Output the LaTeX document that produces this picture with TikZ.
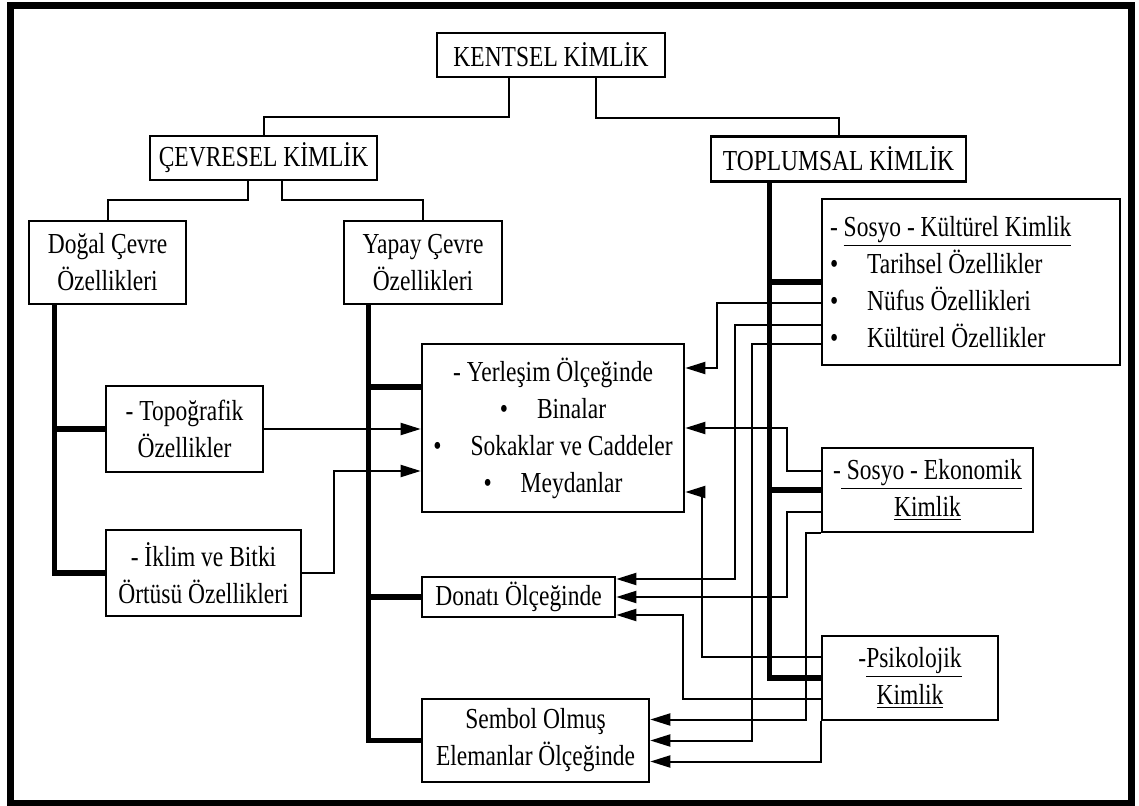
\documentclass[tikz,border=0pt]{standalone}
\usepackage{fontspec}
\setmainfont{Liberation Serif}[FakeStretch=0.81]
\usetikzlibrary{arrows.meta}

\begin{document}
\begin{tikzpicture}[
    x=0.5pt, y=-0.5pt,
    every node/.style={
        font=\fontsize{14.5pt}{18.5pt}\selectfont,
        align=center
    },
    box/.style={
        rectangle,
        draw=black,
        line width=1.3pt,
        inner sep=0pt
    },
    link/.style={line width=1pt},
    bus/.style={line width=2.7pt},
    arrow/.style={
        -{Triangle[length=10pt,width=6pt]},
        line width=1pt
    }
]
\useasboundingbox (0,0) rectangle (1139,806);
\draw[line width=3.5pt] (10.5,5.5) rectangle (1131,803);

\node[box, minimum width=114pt, minimum height=22pt] (kent) at (551,55) {KENTSEL KİMLİK};
\node[box, minimum width=113.5pt, minimum height=22pt] (cevre) at (263.5,158) {ÇEVRESEL KİMLİK};
\node[box, minimum width=127.5pt, minimum height=22.5pt] (toplum) at (838.5,159) {TOPLUMSAL KİMLİK};

\node[box, minimum width=78.5pt, minimum height=41.5pt] (dogal) at (107.5,262.5) {Doğal Çevre\\Özellikleri};
\node[box, minimum width=79pt, minimum height=41.5pt] (yapay) at (423,262.5) {Yapay Çevre\\Özellikleri};
\node[box, minimum width=78.5pt, minimum height=43pt] (topo) at (184.5,429) {- Topoğrafik\\Özellikler};
\node[box, minimum width=97.5pt, minimum height=43pt] (iklim) at (203.5,573) {- İklim ve Bitki\\Örtüsü Özellikleri};

\node[box, minimum width=131pt, minimum height=84pt] (yerlesim) at (553,428)
    {- Yerleşim Ölçeğinde\\\textbullet\quad Binalar\\\textbullet\quad Sokaklar ve Caddeler\\\textbullet\quad Meydanlar};
\node[box, minimum width=96.5pt, minimum height=20pt] (donati) at (518.5,597) {Donatı Ölçeğinde};
\node[box, minimum width=113.5pt, minimum height=41.5pt] (sembol) at (535.5,740.5) {Sembol Olmuş\\Elemanlar Ölçeğinde};

\node[box, align=flush left, inner xsep=4pt, text width=141pt, minimum height=83pt] (sk) at (971,282)
    {- \underline{Sosyo - Kültürel Kimlik}\\\textbullet\quad Tarihsel Özellikler\\\textbullet\quad Nüfus Özellikleri\\\textbullet\quad Kültürel Özellikler};
\node[box, minimum width=105.5pt, minimum height=42pt] (se) at (927.5,490) {-\underline{ Sosyo - Ekonomik}\\\underline{Kimlik}};
\node[box, minimum width=88pt, minimum height=42pt] (ps) at (910,678) {-\underline{Psikolojik}\\\underline{Kimlik}};

\draw[link] (kent.south) ++(-42,0) -- ++(0,39) -| (cevre.north);
\draw[link] (kent.south) ++(45,0) -- ++(0,40) -| (toplum.north);
\draw[link] (cevre.south) ++(-15.5,0) -- ++(0,19) -| (dogal.north);
\draw[link] (cevre.south) ++(18.5,0) -- ++(0,19) -| (yapay.north);

\draw[bus] (dogal.south west) ++(27,0) |- (iklim.west);
\draw[bus] (topo.west) -- ++(-50,0);
\draw[bus] (yapay.south west) ++(26,0) |- (sembol.west);
\draw[bus] ([yshift=20.5pt]yerlesim.west) -- ++(-52,0);
\draw[bus] (donati.west) -- ++(-52,0);
\draw[bus] (toplum.south west) ++(60,0) |- (ps.west);
\draw[bus] (sk.west) -- ++(-51,0);
\draw[bus] (se.west) -- ++(-51,0);

\draw[arrow] (topo.east) -- (topo.east -| yerlesim.west);
\draw[arrow] (iklim.east) -- ++(32,0) |- ([yshift=-21.5pt]yerlesim.west);

\draw[arrow] ([yshift=-10.5pt]sk.west) -- ++(-104,0) |- ([yshift=30pt]yerlesim.east);
\draw[arrow] ([yshift=-21.5pt]sk.west) -- ++(-86,0) |- ([yshift=9pt]donati.east);
\draw[arrow] ([yshift=-31pt]sk.west) -- ++(-69,0) |- (sembol.east);

\draw[arrow] ([yshift=9.5pt]se.west) -- ++(-34,0) |- (yerlesim.east);
\draw[arrow] ([yshift=-11pt]se.west) -- ++(-34,0) |- (donati.east);
\draw[arrow] (se.south west) -- ++(-15,0) |- ([yshift=10.5pt]sembol.east);

\draw[arrow] ([yshift=10.5pt]ps.west) -- ++(-119,0) |- ([yshift=-32pt]yerlesim.east);
\draw[arrow] ([yshift=-10.5pt]ps.west) -- ++(-138,0) |- ([yshift=-9pt]donati.east);
\draw[arrow] (ps.south west) |- ([yshift=-10.5pt]sembol.east);
\end{tikzpicture}
\end{document}
